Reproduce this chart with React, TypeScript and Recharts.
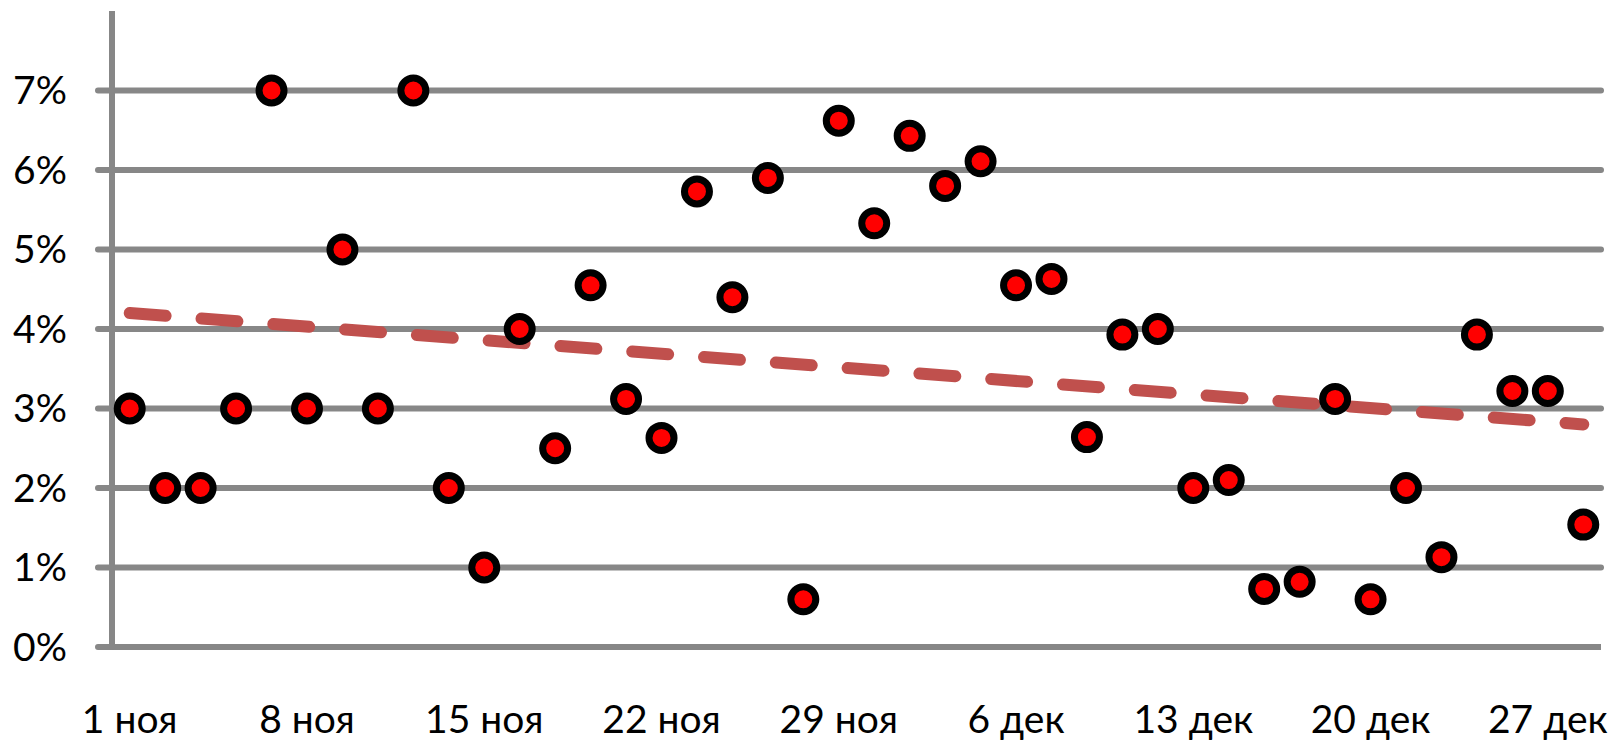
import { ComposedChart, Line, XAxis, YAxis, ReferenceLine } from 'recharts';

// рабочие дни ноябрь-декабрь
const DATES = [
  '1 ноя', '2 ноя', '3 ноя', '4 ноя', '5 ноя',
  '8 ноя', '9 ноя', '10 ноя', '11 ноя', '12 ноя',
  '15 ноя', '16 ноя', '17 ноя', '18 ноя', '19 ноя',
  '22 ноя', '23 ноя', '24 ноя', '25 ноя', '26 ноя',
  '29 ноя', '30 ноя', '1 дек', '2 дек', '3 дек',
  '6 дек', '7 дек', '8 дек', '9 дек', '10 дек',
  '13 дек', '14 дек', '15 дек', '16 дек', '17 дек',
  '20 дек', '21 дек', '22 дек', '23 дек', '24 дек',
  '27 дек', '28 дек',
];

// значения в процентах
const VALUES = [
  3.0, 2.0, 2.0, 3.0, 7.0,
  3.0, 5.0, 3.0, 7.0, 2.0,
  1.0, 4.0, 2.5, 4.55, 3.12,
  2.63, 5.73, 4.4, 5.9, 0.6,
  6.62, 5.33, 6.43, 5.8, 6.11,
  4.55, 4.63, 2.64, 3.93, 4.0,
  2.0, 2.1, 0.73, 0.82, 3.12,
  0.6, 2.0, 1.13, 3.93, 3.22,
  3.22, 1.54,
];

// линейный тренд: начало и конец
const TREND = [4.2, 2.8];

const Y_TICKS = [0, 1, 2, 3, 4, 5, 6, 7];
const LABEL_STEP = 5;

const GREY = '#878787';

const data = VALUES.map((v, i) => ({
  pos: i + 0.5,
  value: v,
  trend: i === 0 ? TREND[0] : i === VALUES.length - 1 ? TREND[1] : null,
}));

const gridTicks = Array.from({ length: DATES.length + 1 }, (_, i) => i);
const labelTicks = DATES.map((_, i) => i)
  .filter((i) => i % LABEL_STEP === 0)
  .map((i) => i + 0.5);

const font = { fontFamily: 'Lato', fontSize: 39, fill: '#000' };

export default function App() {
  return (
    <div style={{ position: 'absolute', left: 0, top: 0, background: '#fff' }}>
      <ComposedChart
        width={1612}
        height={747}
        data={data}
        margin={{ top: 11, right: 11, bottom: 0, left: 12 }}
      >
        <XAxis
          xAxisId="grid"
          type="number"
          dataKey="pos"
          domain={[0, DATES.length]}
          ticks={gridTicks}
          interval={0}
          tick={false}
          height={20}
          tickSize={11}
          axisLine={{ stroke: GREY, strokeWidth: 6 }}
          tickLine={{ stroke: GREY, strokeWidth: 6, strokeLinecap: 'round' }}
        />
        <XAxis
          xAxisId="labels"
          type="number"
          dataKey="pos"
          domain={[0, DATES.length]}
          ticks={labelTicks}
          interval={0}
          tickFormatter={(v: number) => DATES[Math.floor(v)]}
          tick={font}
          height={80}
          tickSize={0}
          tickMargin={38}
          axisLine={false}
          tickLine={false}
        />
        <YAxis
          type="number"
          domain={[0, 8]}
          ticks={Y_TICKS}
          interval={0}
          width={100}
          tickFormatter={(v: number) => `${v}%`}
          tick={font}
          tickSize={14}
          tickMargin={31}
          axisLine={{ stroke: GREY, strokeWidth: 6 }}
          tickLine={{ stroke: GREY, strokeWidth: 6, strokeLinecap: 'round' }}
        />
        {Y_TICKS.filter((t) => t > 0).map((t) => (
          <ReferenceLine
            key={t}
            xAxisId="grid"
            y={t}
            stroke={GREY}
            strokeWidth={6}
            strokeLinecap="round"
          />
        ))}
        <Line
          xAxisId="grid"
          dataKey="value"
          stroke="none"
          isAnimationActive={false}
          activeDot={false}
          dot={{ r: 12.5, fill: '#ff0000', stroke: '#000', strokeWidth: 7 }}
        />
        <Line
          xAxisId="labels"
          dataKey="trend"
          connectNulls
          stroke="#c0504d"
          strokeWidth={12}
          strokeDasharray="36 36"
          strokeLinecap="round"
          dot={false}
          activeDot={false}
          isAnimationActive={false}
        />
      </ComposedChart>
    </div>
  );
}
